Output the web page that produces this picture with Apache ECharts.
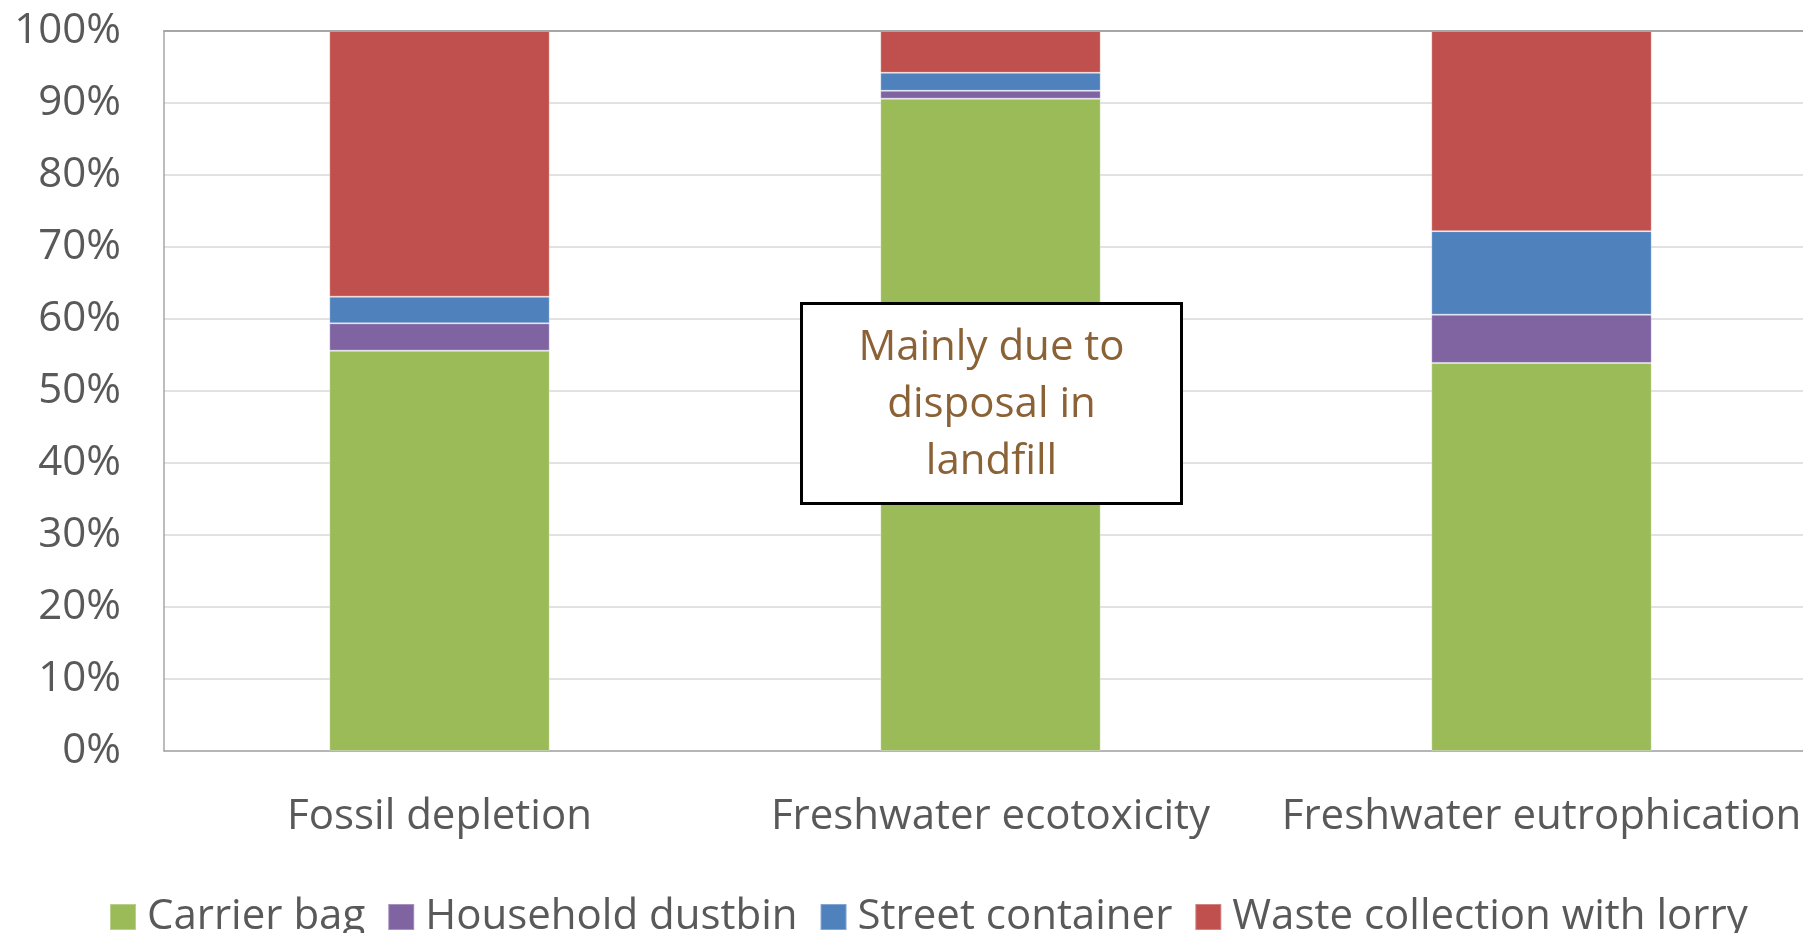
<!DOCTYPE html>
<html style="height: 100%">

<head>
  <meta charset="utf-8">
  <title>Impact contribution</title>
</head>

<body style="height: 100%; margin: 0; background: #fff">
  <div id="container" style="height: 100%"></div>
  <script type="text/javascript" src="https://cdn.jsdelivr.net/npm/echarts@6/dist/echarts.min.js"></script>
  <script type="text/javascript">
    var categories = ['Fossil depletion', 'Freshwater ecotoxicity', 'Freshwater eutrophication'];
    var carrierBag = [55.6, 90.6, 53.9];
    var householdDustbin = [3.8, 1.1, 6.7];
    var streetContainer = [3.7, 2.5, 11.6];
    var wasteLorry = [36.9, 5.8, 27.8];
    var seriesNames = ['Carrier bag', 'Household dustbin', 'Street container', 'Waste collection with lorry'];
    var colors = ['#9BBB59', '#8064A2', '#4F81BD', '#C0504D'];
    var note = 'Mainly due to\ndisposal in\nlandfill';

    var dom = document.getElementById("container");
    var myChart = echarts.init(dom);
    var font = '"Open Sans", sans-serif';

    function bar(name, data) {
      return {
        name: name,
        type: 'bar',
        stack: 'total',
        barWidth: '40%',
        data: data,
        itemStyle: { borderColor: 'rgba(255,255,255,0.3)', borderWidth: 1 }
      };
    }

    var option = {
      animation: false,
      color: colors,
      textStyle: { fontFamily: font },
      grid: { left: 164, width: 1653, top: 31, bottom: 182, outerBoundsMode: 'none', containLabel: false },
      legend: {
        left: 104,
        top: 891,
        itemWidth: 26,
        itemHeight: 26,
        itemGap: 22,
        icon: 'rect',
        textStyle: { fontSize: 42, color: '#595959', fontFamily: font, padding: [0, 0, 0, 6] },
        data: seriesNames
      },
      xAxis: [{
        type: 'category',
        data: categories,
        axisLine: { lineStyle: { color: '#a6a6a6', width: 1.5 } },
        axisTick: { show: false },
        axisLabel: { fontSize: 42, color: '#595959', margin: 45, interval: 0, hideOverlap: false, fontFamily: font }
      }, {
        // top border of the plot
        type: 'category',
        position: 'top',
        data: categories,
        axisLine: { lineStyle: { color: '#a6a6a6', width: 2 } },
        axisTick: { show: false },
        axisLabel: { show: false },
        z: 10
      }],
      yAxis: {
        type: 'value',
        min: 0,
        max: 100,
        interval: 10,
        axisLine: { show: true, lineStyle: { color: '#a6a6a6', width: 1.5 } },
        axisTick: { show: false },
        splitLine: { lineStyle: { color: '#d9d9d9', width: 1.5 } },
        axisLabel: { fontSize: 42, color: '#595959', margin: 43, formatter: '{value}%', fontFamily: font }
      },
      series: [
        bar(seriesNames[0], carrierBag),
        bar(seriesNames[1], householdDustbin),
        bar(seriesNames[2], streetContainer),
        bar(seriesNames[3], wasteLorry)
      ],
      graphic: [{
        type: 'group',
        left: 800,
        top: 302,
        z: 100,
        children: [{
          type: 'rect',
          z: 100,
          shape: { x: 0, y: 0, width: 380, height: 200 },
          style: { fill: '#fff', stroke: '#000', lineWidth: 3 }
        }, {
          type: 'text',
          z: 101,
          x: 190,
          y: 102,
          style: {
            text: note,
            fill: '#8B6136',
            font: '42px ' + font,
            lineHeight: 57,
            align: 'center',
            verticalAlign: 'middle'
          }
        }]
      }]
    };
    myChart.setOption(option, true);
  </script>
</body>

</html>
